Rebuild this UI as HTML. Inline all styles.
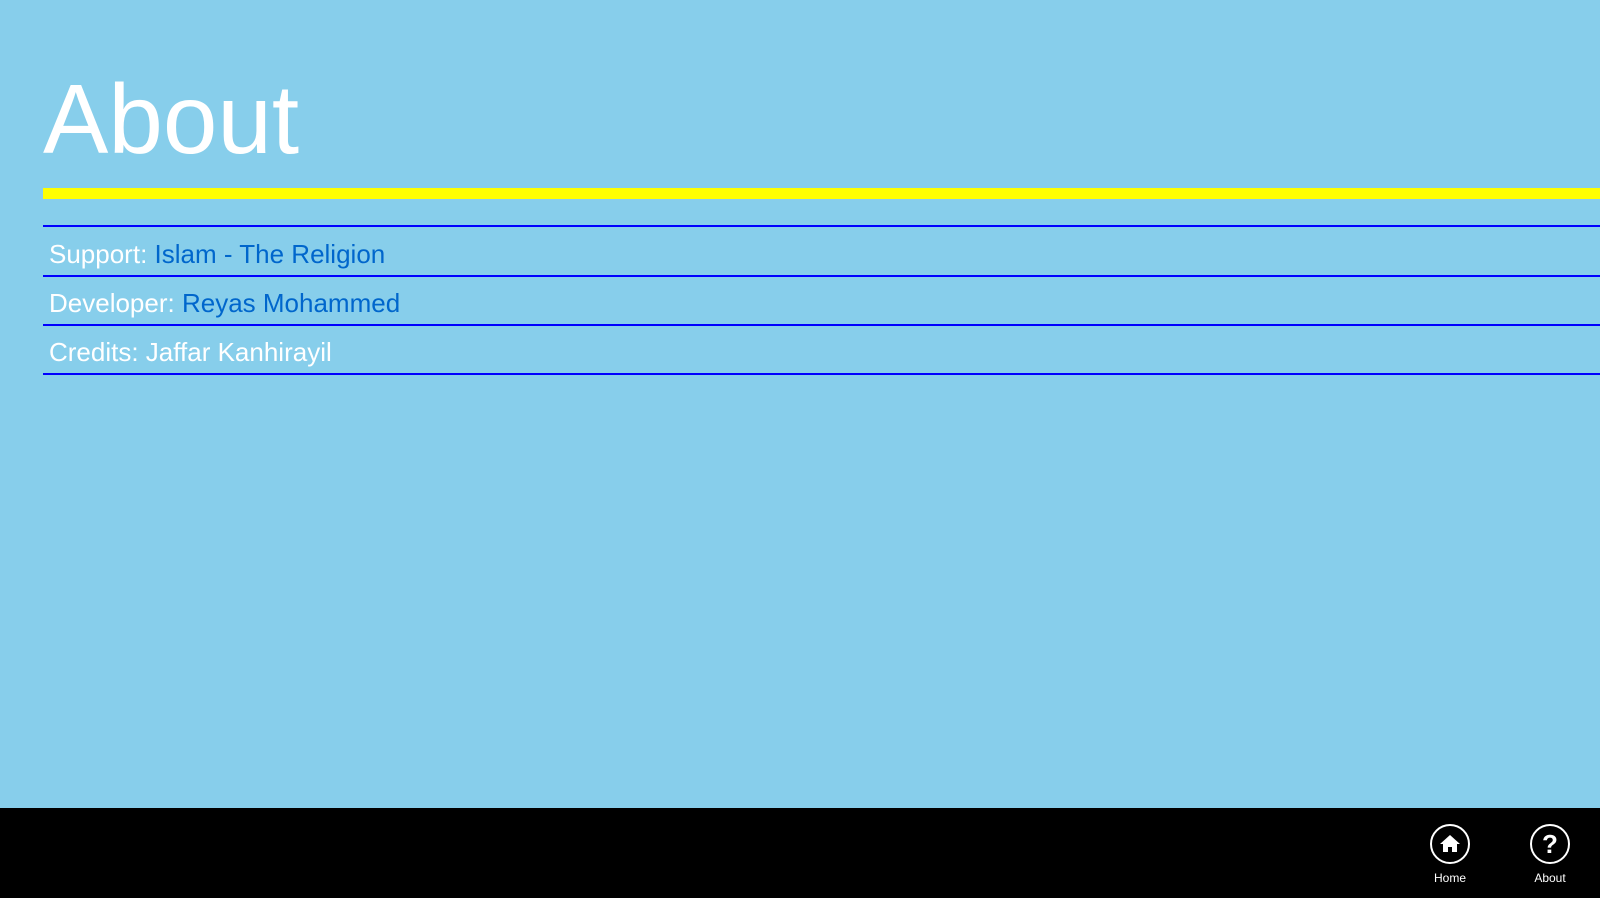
<!DOCTYPE html>
<html><head><style>
body{margin:0;width:1600px;height:898px;background:#87ceeb;position:relative;overflow:hidden;font-family:"Segoe UI","Liberation Sans",sans-serif;}
.t{position:absolute;left:43px;top:70px;font-size:98px;color:#fff;font-weight:300;line-height:1;}
.y{position:absolute;left:43px;right:0;top:188px;height:11px;background:#ffff00;}
.l{position:absolute;left:43px;right:0;height:2px;background:#0000ff;}
.r{position:absolute;left:49px;font-size:26px;color:#fff;line-height:1;}
.r span{color:#0066cc;}
.bar{position:absolute;left:0;right:0;top:808px;bottom:0;background:#000;}
.ic{position:absolute;top:824px;width:36px;height:36px;border:2px solid #fff;border-radius:50%;color:#fff;text-align:center;font-size:26px;font-weight:bold;line-height:36px;}
.lb{position:absolute;top:871px;width:80px;text-align:center;color:#fff;font-size:12px;}
</style></head><body>
<div class="t">About</div>
<div class="y"></div>
<div class="l" style="top:225px"></div>
<div class="l" style="top:275px"></div>
<div class="l" style="top:324px"></div>
<div class="l" style="top:373px"></div>
<div class="r" style="top:241px">Support: <span>Islam - The Religion</span></div>
<div class="r" style="top:290px">Developer: <span>Reyas Mohammed</span></div>
<div class="r" style="top:339px">Credits: Jaffar Kanhirayil</div>
<div class="bar"></div>
<div class="ic" style="left:1430px"><svg width="24" height="24" viewBox="0 0 24 24" style="margin-top:6px"><path d="M12 3 L22 12 L19 12 L19 20 L14 20 L14 15 L10 15 L10 20 L5 20 L5 12 L2 12 Z" fill="#fff"/></svg></div>
<div class="ic" style="left:1530px">?</div>
<div class="lb" style="left:1410px">Home</div>
<div class="lb" style="left:1510px">About</div>
</body></html>
